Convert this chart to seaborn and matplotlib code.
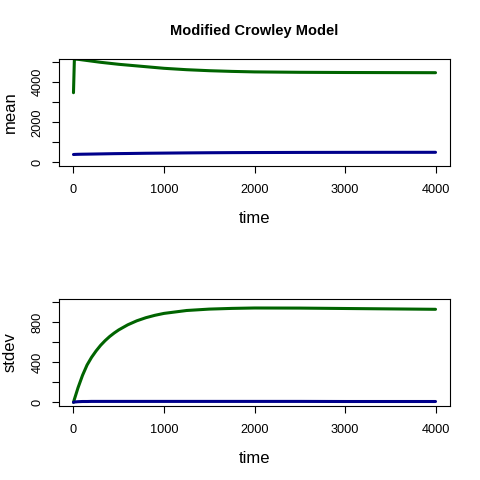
import pandas as pd
import seaborn as sns
import matplotlib.pyplot as plt

# values
time = [0, 10, 25, 50, 100, 150, 200, 250, 300, 350, 400, 450, 500, 600, 700,
        800, 900, 1000, 1250, 1500, 1750, 2000, 2500, 3000, 3500, 4000]
mean_green = [3480, 5160, 5158, 5150, 5120, 5090, 5060, 5030, 5000, 4975, 4950,
              4925, 4900, 4860, 4820, 4780, 4740, 4700, 4630, 4580, 4545, 4520,
              4500, 4490, 4485, 4480]
mean_blue = [390, 393, 396, 400, 405, 408, 412, 416, 420, 424, 428, 432, 435,
             440, 446, 452, 456, 460, 470, 478, 484, 488, 494, 497, 499, 500]
sd_green = [0, 30, 73, 145, 270, 373, 450, 514, 570, 617, 658, 693, 724, 775,
            815, 846, 870, 889, 918, 932, 939, 943, 942, 938, 934, 930]
sd_blue = [0, 3, 4, 6, 8, 8, 9, 9, 9, 9, 9, 9, 9, 9, 9, 9, 9, 9, 9, 9, 9, 9,
           9, 8, 8, 8]

df = pd.DataFrame({"time": time, "mean_g": mean_green, "mean_b": mean_blue,
                   "sd_g": sd_green, "sd_b": sd_blue})

sns.set_style("ticks")
plt.rcParams['font.family'] = ['Liberation Sans', 'DejaVu Sans']
plt.rcParams['text.color'] = 'black'
plt.rcParams['axes.labelcolor'] = 'black'
plt.rcParams['xtick.color'] = 'black'
plt.rcParams['ytick.color'] = 'black'

fig = plt.figure(figsize=(4.8, 4.8), dpi=100)
ax1 = fig.add_axes([59/480, 1-166/480, 391/480, 107/480])
ax2 = fig.add_axes([59/480, 1-406/480, 391/480, 107/480])

sns.lineplot(data=df, x="time", y="mean_g", color="#006400", lw=2.2, ax=ax1)
sns.lineplot(data=df, x="time", y="mean_b", color="#00008B", lw=2.2, ax=ax1)
sns.lineplot(data=df, x="time", y="sd_g", color="#006400", lw=2.2, ax=ax2)
sns.lineplot(data=df, x="time", y="sd_b", color="#00008B", lw=2.2, ax=ax2)

ax1.set_ylim(-185, 5165)
ax1.set_yticks([0, 1000, 2000, 3000, 4000, 5000])
ax1.set_yticklabels(["0", "", "2000", "", "4000", ""])
ax1.set_ylabel("mean", fontsize=12, labelpad=10)
ax1.set_title("Modified Crowley Model", fontsize=10.5, fontweight="bold", pad=17)

ax2.set_ylim(-37, 1033)
ax2.set_yticks([0, 200, 400, 600, 800, 1000])
ax2.set_yticklabels(["0", "", "400", "", "800", ""])
ax2.set_ylabel("stdev", fontsize=12, labelpad=10)

for ax in (ax1, ax2):
    ax.set_xlim(-160, 4160)
    ax.set_xticks([0, 1000, 2000, 3000, 4000])
    ax.set_xlabel("time", fontsize=12, labelpad=11)
    ax.tick_params(length=5, width=0.8, labelsize=9.2)
    ax.tick_params(axis="x", pad=8)
    ax.tick_params(axis="y", pad=6)
    for lbl in ax.get_yticklabels():
        lbl.set_rotation(90)
        lbl.set_va("center")
    for s in ax.spines.values():
        s.set_visible(True)
        s.set_color("black")
        s.set_linewidth(0.8)

fig.savefig("out.png", dpi=100)
